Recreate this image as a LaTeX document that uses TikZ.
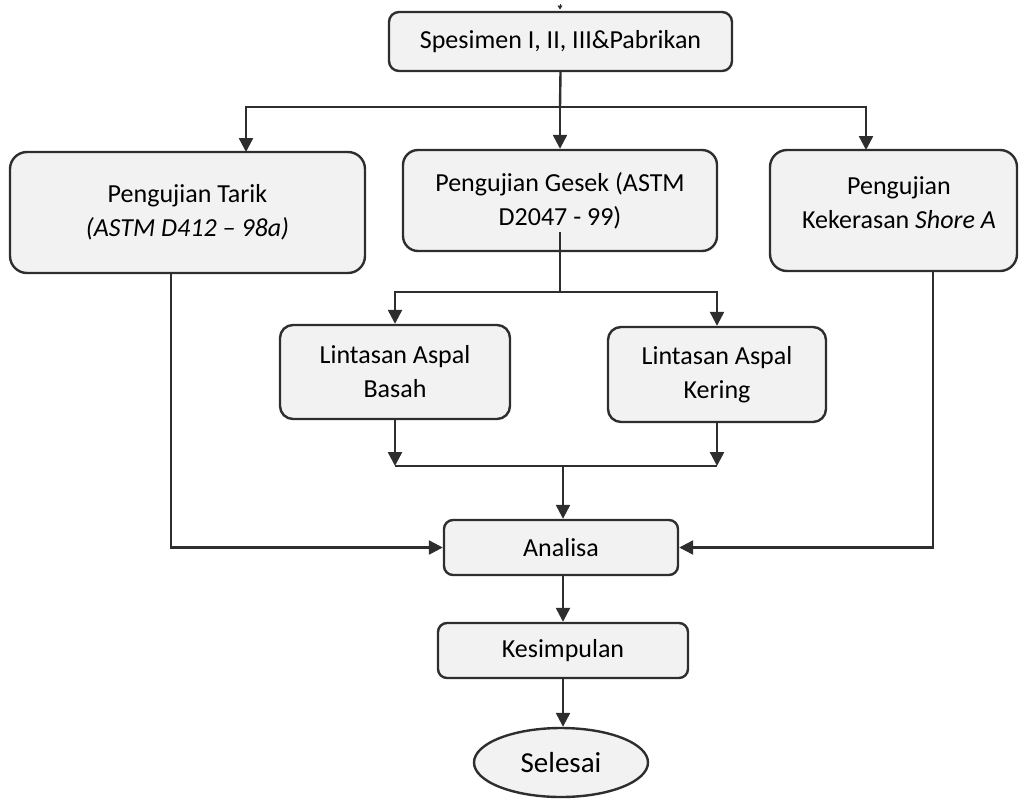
\documentclass[tikz,border=0pt]{standalone}
\usepackage{fontspec}
\setmainfont{Carlito}
\usetikzlibrary{arrows.meta,shapes.geometric}
\definecolor{ln}{HTML}{2E2E2E}
\definecolor{bx}{HTML}{F2F2F2}
\tikzset{
  box/.style={draw=ln, fill=bx, line width=2.4pt, rounded corners=#1, align=center,
    font=\fontsize{26}{34}\selectfont, inner sep=0pt},
  box/.default=10pt,
  conn/.style={draw=ln, line width=2.4pt},
  arr/.style={conn, -{Triangle[length=14pt,width=14pt]}},
}
\begin{document}
\begin{tikzpicture}[x=1pt,y=-1pt]
\useasboundingbox (0,0) rectangle (1019,798);
% nodes
\node[box=10pt, minimum width=343pt, minimum height=59pt] (spes) at (560.5,41.5) {Spesimen I, II, III\&Pabrikan};
\node[box=17pt, minimum width=355pt, minimum height=121pt] (tarik) at (187.5,212.5) {Pengujian Tarik\\\textit{(ASTM D412 -- 98a)}};
\node[box=15pt, minimum width=314pt, minimum height=101pt] (gesek) at (560,200.5) {Pengujian Gesek (ASTM\\D2047 - 99)};
\node[box=17pt, minimum width=247pt, minimum height=121pt] (shore) at (893.5,210.5) {};
\node[align=center, font=\fontsize{26}{34}\selectfont, inner sep=0pt] (shoret) at (899,203) {Pengujian\\Kekerasan \textit{Shore A}};
\node[box=13pt, minimum width=230pt, minimum height=94pt] (basah) at (395,372) {Lintasan Aspal\\Basah};
\node[box=13pt, minimum width=218pt, minimum height=95pt] (kering) at (717,374.5) {Lintasan Aspal\\Kering};
\node[box=9pt, minimum width=234pt, minimum height=55pt] (analisa) at (561,547.5) {Analisa};
\node[box=9pt, minimum width=250pt, minimum height=55pt] (kesim) at (563,650.5) {Kesimpulan};
\node[draw=ln, fill=bx, line width=2.4pt, ellipse, minimum width=174pt, minimum height=69pt, inner sep=0pt,
  font=\fontsize{29}{34}\selectfont] (selesai) at (561,762.5) {Selesai};
% coordinates
\coordinate (t0) at (560,4);
\coordinate (t1) at (560,9.5);
\coordinate (br) at (560,107);
\coordinate (tarikin) at (246,152);
\coordinate (shorein) at (866,150);
\coordinate (gout) at (560,232);
\coordinate (br2) at (560,292);
\coordinate (j1) at (395,466);
\coordinate (j2) at (717,466);
\coordinate (j3) at (563,466);
\coordinate (tx) at (171,0);
\coordinate (sx) at (933,0);
% connectors
\draw[ln, line width=0.6pt, -{Triangle[length=4pt,width=5pt]}] (t0) -- (t1);
\draw[conn] (spes.south) -- (br);
\draw[arr] (br) -| (tarikin);
\draw[arr] (br) -| (shorein);
\draw[arr] (br) -- (gesek.north);
\draw[conn] (gout) -- (br2);
\draw[arr] (br2) -| (basah.north);
\draw[arr] (br2) -| (kering.north);
\draw[arr] (basah.south) -- (j1);
\draw[arr] (kering.south) -- (j2);
\draw[conn] (j1) -- (j2);
\draw[arr] (j3) -- (j3 |- analisa.north);
\draw[arr] (tarik.south -| tx) |- (analisa.west);
\draw[arr] (shore.south -| sx) |- (analisa.east);
\draw[arr] (analisa.south -| kesim.center) -- (kesim.north);
\draw[arr] (kesim.south) -- (kesim.south |- selesai.north);
\end{tikzpicture}
\end{document}
